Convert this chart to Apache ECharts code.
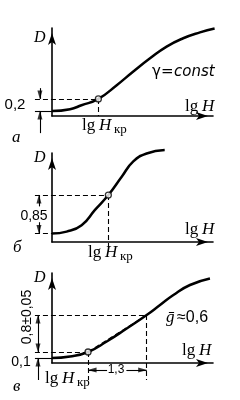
<!DOCTYPE html>
<html>
<head>
<meta charset="utf-8">
<script src="https://cdn.jsdelivr.net/npm/echarts@6/dist/echarts.min.js"></script>
<style>
  html, body { margin: 0; padding: 0; background: #fff; }
  #chart { width: 240px; height: 400px; }
</style>
</head>
<body>
<div id="chart"></div>
<script>
  // характеристические кривые D(lg H), условные единицы: lg H 0..10, D 0..1.8
  const curveA = [[0, 0.1], [1.12, 0.14], [1.83, 0.22], [2.88, 0.35], [4.02, 0.63], [5.05, 0.91], [6.09, 1.18], [7.12, 1.42], [8.15, 1.59], [9.19, 1.71], [10.1, 1.79]];
  const curveB = [[0, 0.17], [0.91, 0.21], [1.84, 0.34], [2.67, 0.65], [3.5, 0.95], [4.33, 1.32], [5.05, 1.63], [5.88, 1.79], [7.0, 1.86]];
  const curveC = [[0, 0.1], [1.12, 0.13], [2.24, 0.22], [3.4, 0.43], [4.64, 0.69], [5.88, 0.96], [6.71, 1.16], [7.54, 1.36], [8.57, 1.56], [9.81, 1.69]];

  // точки lg H кр
  const critA = [[2.88, 0.35]];
  const critB = [[3.5, 0.95]];
  const critC = [[2.24, 0.22]];

  // пунктирные и сплошные выноски
  const dashA = [[[-1.06, 0.35], [2.88, 0.35]], [[2.88, 0.35], [2.88, 0]]];
  const solidA = [[[-1.06, 0.1], [0, 0.1]], [[-0.75, 0.57], [-0.75, 0.35]], [[-0.75, -0.35], [-0.75, 0.1]]];
  const arrowA = [[-0.75, 0.35, 'down'], [-0.75, 0.1, 'up']];

  const dashB = [[[-1.06, 0.95], [3.5, 0.95]], [[3.5, 0.95], [3.5, -0.14]], [[-1.06, 0.17], [0, 0.17]]];
  const solidB = [[[-0.81, 0.72], [-0.81, 0.95]], [[-0.81, 0.4], [-0.81, 0.17]]];
  const arrowB = [[-0.81, 0.95, 'up'], [-0.81, 0.17, 'down']];

  const dashC = [[[-1.06, 0.96], [5.88, 0.96]], [[-1.06, 0.22], [2.24, 0.22]], [[2.24, 0.22], [5.88, 0.96]],
                 [[5.88, 0.96], [5.88, -0.34]], [[2.24, 0.22], [2.24, -0.34]]];
  const solidC = [[[-1.06, 0.1], [0, 0.1]], [[-0.87, 0.96], [-0.87, 0.22]], [[-0.87, -0.34], [-0.87, 0.1]],
                  [[2.24, -0.14], [3.42, -0.14]], [[4.62, -0.14], [5.88, -0.14]]];
  const arrowC = [[-0.87, 0.96, 'up'], [-0.87, 0.22, 'down'], [-0.87, 0.1, 'up'], [2.24, -0.14, 'left'], [5.88, -0.14, 'right']];

  const serif = '"Liberation Serif"';
  const sans = '"Liberation Sans"';

  const grids = [
    { left: 52, right: 27, top: 28, height: 88 },
    { left: 52, right: 27, top: 153, height: 89 },
    { left: 52, right: 27, top: 273, height: 90 }
  ];

  function axisLine() {
    return {
      onZero: false,
      symbol: ['none', 'arrow'],
      symbolSize: [6, 12],
      symbolOffset: [0, -5],
      lineStyle: { color: '#000', width: 1.6 }
    };
  }

  const xAxis = grids.map((g, i) => ({
    gridIndex: i, type: 'value', min: 0, max: 10,
    axisLine: axisLine(), axisTick: { show: false }, axisLabel: { show: false }, splitLine: { show: false }
  }));
  const yAxis = grids.map((g, i) => ({
    gridIndex: i, type: 'value', min: 0, max: 1.8,
    axisLine: axisLine(), axisTick: { show: false }, axisLabel: { show: false }, splitLine: { show: false }
  }));

  const rot = { up: 0, down: 180, left: 90, right: -90 };
  const off = { up: [0, 4], down: [0, -4], left: [4, 0], right: [-4, 0] };

  function panel(i, curve, crit, dash, solid, arrows) {
    return [
      {
        type: 'line', xAxisIndex: i, yAxisIndex: i, data: curve, smooth: 0.5,
        symbol: 'none', clip: false, lineStyle: { color: '#000', width: 2.5 }, z: 3
      },
      {
        type: 'lines', coordinateSystem: 'cartesian2d', xAxisIndex: i, yAxisIndex: i, clip: false,
        lineStyle: { color: '#000', width: 1.1, type: [5, 3], opacity: 1 },
        data: dash.map(s => ({ coords: s }))
      },
      {
        type: 'lines', coordinateSystem: 'cartesian2d', xAxisIndex: i, yAxisIndex: i, clip: false,
        lineStyle: { color: '#000', width: 1.1, opacity: 1 },
        data: solid.map(s => ({ coords: s }))
      },
      {
        type: 'scatter', xAxisIndex: i, yAxisIndex: i, clip: false, symbol: 'triangle', symbolSize: [5, 9],
        itemStyle: { color: '#000' },
        data: arrows.map(a => ({ value: [a[0], a[1]], symbolRotate: rot[a[2]], symbolOffset: off[a[2]] }))
      },
      {
        type: 'scatter', xAxisIndex: i, yAxisIndex: i, clip: false, symbol: 'circle', symbolSize: 6, z: 5,
        itemStyle: { color: '#fff', borderColor: '#000', borderWidth: 1.3 },
        data: crit
      }
    ];
  }

  function txt(x, y, text, font, align, extra) {
    return Object.assign({
      type: 'text', x: x, y: y,
      style: {
        text: text, font: font, fill: '#000',
        align: align || 'left', verticalAlign: 'middle',
        textAlign: align || 'left', textVerticalAlign: 'middle'
      }
    }, extra || {});
  }

  function lgH(x, y, sub) {
    const out = [
      txt(x, y, 'lg', '17px ' + serif),
      txt(x + 17, y, 'H', 'italic 17px ' + serif)
    ];
    if (sub) out.push(txt(x + 32, y + 4, 'кр', '13px ' + serif));
    return out;
  }

  const texts = [].concat(
    // а
    [txt(34, 38, 'D', 'italic 16px ' + serif),
     txt(152, 72, 'γ=', '15px "DejaVu Sans"'),
     txt(174, 72, 'const', 'italic 15px "DejaVu Sans"'),
     txt(15, 105, '0,2', '15px ' + sans, 'center'),
     txt(12, 138, 'а', 'italic 17px ' + serif)],
    lgH(185, 107, false),
    lgH(82, 126, true),
    // б
    [txt(34, 158, 'D', 'italic 16px ' + serif),
     txt(34, 216, '0,85', '14px ' + sans, 'center'),
     txt(13, 248, 'б', 'italic 17px ' + serif)],
    lgH(185, 230, false),
    lgH(88, 253, true),
    // в
    [txt(34, 278, 'D', 'italic 16px ' + serif),
     txt(166, 318, 'ḡ', 'italic 17px ' + serif),
     txt(177, 318, '≈0,6', '16px ' + sans),
     txt(27, 317, '0,8±0,05', '14px ' + sans, 'center', { rotation: Math.PI / 2 }),
     txt(21, 362, '0,1', '14px ' + sans, 'center'),
     txt(116, 370, '1,3', '12px ' + sans, 'center'),
     txt(13, 387, 'в', 'italic 17px ' + serif)],
    lgH(182, 351, false),
    lgH(45, 379, true)
  );

  const chart = echarts.init(document.getElementById('chart'));
  chart.setOption({
    animation: false,
    backgroundColor: '#fff',
    grid: grids,
    xAxis: xAxis,
    yAxis: yAxis,
    series: [].concat(
      panel(0, curveA, critA, dashA, solidA, arrowA),
      panel(1, curveB, critB, dashB, solidB, arrowB),
      panel(2, curveC, critC, dashC, solidC, arrowC)
    ),
    graphic: texts
  });
</script>
</body>
</html>
